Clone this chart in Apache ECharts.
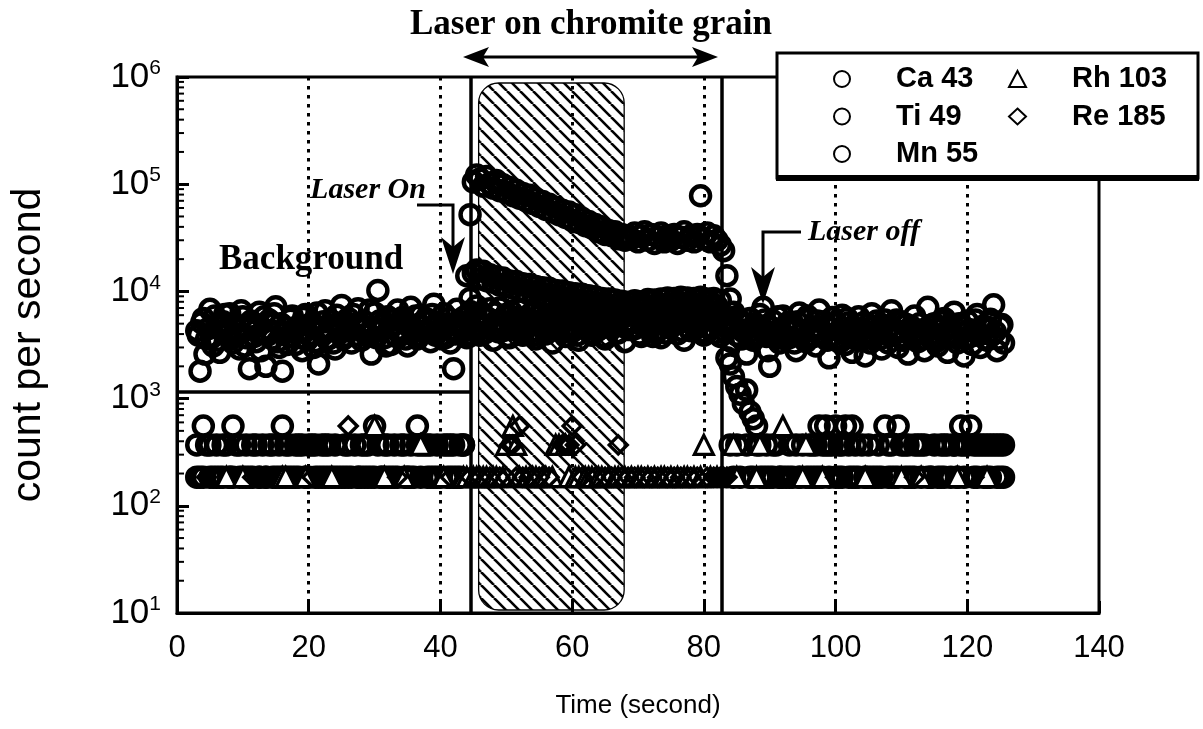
<!DOCTYPE html>
<html>
<head>
<meta charset="utf-8">
<title>Laser on chromite grain</title>
<script src="https://cdn.jsdelivr.net/npm/echarts@6/dist/echarts.min.js"></script>
<style>
  html, body { margin: 0; padding: 0; background: #fff; }
  #chart { width: 1203px; height: 729px; }
</style>
</head>
<body>
<div id="chart"></div>
<script>
// Ca 43 is read twice per sweep: its own time base (s)
const caTime = [
  3, 3.25, 3.5, 3.75, 4, 4.25, 4.5, 4.75, 5, 5.25, 5.5, 5.75, 6, 6.25, 6.5, 6.75, 7, 7.25, 7.5, 7.75,
  8, 8.25, 8.5, 8.75, 9, 9.25, 9.5, 9.75, 10, 10.25, 10.5, 10.75, 11, 11.25, 11.5, 11.75, 12, 12.25, 12.5, 12.75,
  13, 13.25, 13.5, 13.75, 14, 14.25, 14.5, 14.75, 15, 15.25, 15.5, 15.75, 16, 16.25, 16.5, 16.75, 17, 17.25, 17.5, 17.75,
  18, 18.25, 18.5, 18.75, 19, 19.25, 19.5, 19.75, 20, 20.25, 20.5, 20.75, 21, 21.25, 21.5, 21.75, 22, 22.25, 22.5, 22.75,
  23, 23.25, 23.5, 23.75, 24, 24.25, 24.5, 24.75, 25, 25.25, 25.5, 25.75, 26, 26.25, 26.5, 26.75, 27, 27.25, 27.5, 27.75,
  28, 28.25, 28.5, 28.75, 29, 29.25, 29.5, 29.75, 30, 30.25, 30.5, 30.75, 31, 31.25, 31.5, 31.75, 32, 32.25, 32.5, 32.75,
  33, 33.25, 33.5, 33.75, 34, 34.25, 34.5, 34.75, 35, 35.25, 35.5, 35.75, 36, 36.25, 36.5, 36.75, 37, 37.25, 37.5, 37.75,
  38, 38.25, 38.5, 38.75, 39, 39.25, 39.5, 39.75, 40, 40.25, 40.5, 40.75, 41, 41.25, 41.5, 41.75, 42, 42.25, 42.5, 42.75,
  43, 43.25, 43.5, 43.75, 44, 44.25, 44.5, 44.75, 45, 45.25, 45.5, 45.75, 46, 46.25, 46.5, 46.75, 47, 47.25, 47.5, 47.75,
  48, 48.25, 48.5, 48.75, 49, 49.25, 49.5, 49.75, 50, 50.25, 50.5, 50.75, 51, 51.25, 51.5, 51.75, 52, 52.25, 52.5, 52.75,
  53, 53.25, 53.5, 53.75, 54, 54.25, 54.5, 54.75, 55, 55.25, 55.5, 55.75, 56, 56.25, 56.5, 56.75, 57, 57.25, 57.5, 57.75,
  58, 58.25, 58.5, 58.75, 59, 59.25, 59.5, 59.75, 60, 60.25, 60.5, 60.75, 61, 61.25, 61.5, 61.75, 62, 62.25, 62.5, 62.75,
  63, 63.25, 63.5, 63.75, 64, 64.25, 64.5, 64.75, 65, 65.25, 65.5, 65.75, 66, 66.25, 66.5, 66.75, 67, 67.25, 67.5, 67.75,
  68, 68.25, 68.5, 68.75, 69, 69.25, 69.5, 69.75, 70, 70.25, 70.5, 70.75, 71, 71.25, 71.5, 71.75, 72, 72.25, 72.5, 72.75,
  73, 73.25, 73.5, 73.75, 74, 74.25, 74.5, 74.75, 75, 75.25, 75.5, 75.75, 76, 76.25, 76.5, 76.75, 77, 77.25, 77.5, 77.75,
  78, 78.25, 78.5, 78.75, 79, 79.25, 79.5, 79.75, 80, 80.25, 80.5, 80.75, 81, 81.25, 81.5, 81.75, 82, 82.25, 82.5, 82.75,
  83, 83.25, 83.5, 83.75, 84, 84.25, 84.5, 84.75, 85, 85.25, 85.5, 85.75, 86, 86.25, 86.5, 86.75, 87, 87.25, 87.5, 87.75,
  88, 88.25, 88.5, 88.75, 89, 89.25, 89.5, 89.75, 90, 90.25, 90.5, 90.75, 91, 91.25, 91.5, 91.75, 92, 92.25, 92.5, 92.75,
  93, 93.25, 93.5, 93.75, 94, 94.25, 94.5, 94.75, 95, 95.25, 95.5, 95.75, 96, 96.25, 96.5, 96.75, 97, 97.25, 97.5, 97.75,
  98, 98.25, 98.5, 98.75, 99, 99.25, 99.5, 99.75, 100, 100.25, 100.5, 100.75, 101, 101.25, 101.5, 101.75, 102, 102.25, 102.5, 102.75,
  103, 103.25, 103.5, 103.75, 104, 104.25, 104.5, 104.75, 105, 105.25, 105.5, 105.75, 106, 106.25, 106.5, 106.75, 107, 107.25, 107.5, 107.75,
  108, 108.25, 108.5, 108.75, 109, 109.25, 109.5, 109.75, 110, 110.25, 110.5, 110.75, 111, 111.25, 111.5, 111.75, 112, 112.25, 112.5, 112.75,
  113, 113.25, 113.5, 113.75, 114, 114.25, 114.5, 114.75, 115, 115.25, 115.5, 115.75, 116, 116.25, 116.5, 116.75, 117, 117.25, 117.5, 117.75,
  118, 118.25, 118.5, 118.75, 119, 119.25, 119.5, 119.75, 120, 120.25, 120.5, 120.75, 121, 121.25, 121.5, 121.75, 122, 122.25, 122.5, 122.75,
  123, 123.25, 123.5, 123.75, 124, 124.25, 124.5, 124.75, 125, 125.25, 125.5
];

// Ca 43 count rate (counts per second)
const ca43 = [
  4300, 3900, 1800, 5100, 5600, 2600, 3600, 4500, 6800, 3700, 3100, 5900, 4700, 3500, 2700, 4800, 5200, 6100, 3900, 4200,
  6200, 3600, 3300, 5000, 4500, 4000, 2900, 6600, 5800, 3100, 3700, 4400, 1900, 5300, 4900, 3800, 3400, 4700, 6400, 2800,
  4100, 5800, 2000, 3900, 5400, 4300, 3600, 6200, 7200, 3400, 3000, 5000, 1800, 4100, 4600, 3200, 3800, 5500, 5900, 4400,
  3200, 4600, 4800, 3700, 2800, 5700, 6100, 3500, 3900, 4800, 5100, 3000, 3400, 6300, 2100, 4200, 4400, 5200, 6600, 3600,
  3600, 4400, 5300, 3300, 2900, 6000, 4700, 4100, 7400, 3600, 3800, 5100, 5600, 4400, 3300, 6100, 4900, 3900, 6900, 4600,
  3500, 4800, 5200, 3900, 4100, 6700, 2600, 4500, 6300, 3700, 10200, 5300, 4300, 4900, 3700, 3100, 5800, 4600, 3200, 5400,
  4900, 3800, 6700, 4400, 3900, 5700, 5400, 3600, 3100, 4800, 7100, 4200, 4500, 5900, 3600, 3900, 6000, 4700, 4200, 5200,
  5500, 4200, 3400, 6100, 7600, 3900, 4700, 5100, 3800, 4500, 6200, 3700, 5000, 5600, 3300, 4400, 1900, 4000, 6800, 5100,
  4600, 5200, 5700, 4300, 3700, 6000, 6500, 3900, 4400, 5400, 7300, 4700, 3900, 6200, 5800, 4100, 4800, 5600, 6900, 4500,
  3500, 6300, 5300, 4200, 7000, 5100, 4300, 5800, 6100, 3800, 3700, 6500, 5200, 4400, 4600, 5700, 6700, 4200, 3900, 5400,
  5500, 4700, 4100, 6200, 6300, 3900, 3600, 5300, 4900, 6000, 7100, 4400, 4000, 5100, 5600, 4300, 3300, 6400, 6000, 4800,
  4500, 5600, 5100, 4200, 3800, 6100, 6600, 4500, 4200, 5800, 5400, 3900, 3500, 5200, 6200, 4600, 4700, 6300, 5900, 4100,
  3900, 5500, 6400, 4300, 4400, 6100, 5000, 3800, 3600, 5400, 6800, 4600, 4800, 6200, 5700, 4100, 4100, 5500, 6300, 4700,
  3400, 5900, 5300, 4400, 7000, 5100, 4500, 6300, 6100, 4000, 3800, 5700, 5500, 4600, 4900, 6100, 6700, 3800, 4200, 5300,
  5800, 4400, 3700, 6000, 6500, 4100, 4600, 5600, 5200, 4800, 7200, 5300, 4000, 6100, 6000, 4300, 3500, 5700, 5600, 4500,
  4300, 6100, 6900, 4500, 4800, 5800, 5400, 4200, 3900, 6400, 6200, 4700, 4400, 5500, 7500, 4100, 5000, 6000, 3800, 4900,
  5900, 4200, 4600, 5500, 2100, 3400, 6400, 4700, 3900, 5600, 5200, 3600, 4200, 4900, 2600, 4100, 5600, 3800, 3500, 5000,
  4700, 3900, 6100, 4400, 7100, 5400, 3800, 2800, 2000, 4600, 5300, 3700, 4100, 5800, 3300, 4200, 5900, 3600, 4400, 5100,
  3700, 4600, 5000, 3300, 2800, 5200, 6300, 4000, 4200, 3600, 3400, 5900, 5500, 4300, 4600, 3800, 3100, 5300, 6700, 4000,
  3900, 5200, 4800, 3500, 2400, 4500, 5700, 3900, 3600, 5000, 4300, 3400, 6000, 4200, 3200, 5600, 5100, 3700, 2700, 4600,
  4500, 3700, 5800, 4300, 3500, 5100, 2500, 3900, 4900, 3300, 6200, 4600, 3800, 5300, 4100, 3600, 2900, 4800, 5400, 4000,
  3300, 4700, 6600, 3900, 4400, 5400, 3000, 4200, 5200, 3500, 3700, 4900, 2600, 4300, 4700, 3700, 5900, 4100, 3400, 5000,
  4200, 3600, 2800, 4500, 7100, 3900, 3600, 4900, 5000, 3400, 3100, 4400, 4600, 5200, 5600, 3800, 2700, 4500, 3900, 4100,
  6400, 3700, 3300, 5000, 4800, 4100, 2500, 3600, 5300, 4400, 3800, 3200, 4300, 5400, 6100, 3900, 3000, 4700, 4500, 3600,
  3500, 4600, 5500, 3900, 7500, 4200, 2800, 3600, 4700, 4900, 3300
];

// Sweep times for the other isotopes (s)
const sweepTime = [
  3, 3.5, 4, 4.5, 5, 5.5, 6, 6.5, 7, 7.5,
  8, 8.5, 9, 9.5, 10, 10.5, 11, 11.5, 12, 12.5,
  13, 13.5, 14, 14.5, 15, 15.5, 16, 16.5, 17, 17.5,
  18, 18.5, 19, 19.5, 20, 20.5, 21, 21.5, 22, 22.5,
  23, 23.5, 24, 24.5, 25, 25.5, 26, 26.5, 27, 27.5,
  28, 28.5, 29, 29.5, 30, 30.5, 31, 31.5, 32, 32.5,
  33, 33.5, 34, 34.5, 35, 35.5, 36, 36.5, 37, 37.5,
  38, 38.5, 39, 39.5, 40, 40.5, 41, 41.5, 42, 42.5,
  43, 43.5, 44, 44.5, 45, 45.5, 46, 46.5, 47, 47.5,
  48, 48.5, 49, 49.5, 50, 50.5, 51, 51.5, 52, 52.5,
  53, 53.5, 54, 54.5, 55, 55.5, 56, 56.5, 57, 57.5,
  58, 58.5, 59, 59.5, 60, 60.5, 61, 61.5, 62, 62.5,
  63, 63.5, 64, 64.5, 65, 65.5, 66, 66.5, 67, 67.5,
  68, 68.5, 69, 69.5, 70, 70.5, 71, 71.5, 72, 72.5,
  73, 73.5, 74, 74.5, 75, 75.5, 76, 76.5, 77, 77.5,
  78, 78.5, 79, 79.5, 80, 80.5, 81, 81.5, 82, 82.5,
  83, 83.5, 84, 84.5, 85, 85.5, 86, 86.5, 87, 87.5,
  88, 88.5, 89, 89.5, 90, 90.5, 91, 91.5, 92, 92.5,
  93, 93.5, 94, 94.5, 95, 95.5, 96, 96.5, 97, 97.5,
  98, 98.5, 99, 99.5, 100, 100.5, 101, 101.5, 102, 102.5,
  103, 103.5, 104, 104.5, 105, 105.5, 106, 106.5, 107, 107.5,
  108, 108.5, 109, 109.5, 110, 110.5, 111, 111.5, 112, 112.5,
  113, 113.5, 114, 114.5, 115, 115.5, 116, 116.5, 117, 117.5,
  118, 118.5, 119, 119.5, 120, 120.5, 121, 121.5, 122, 122.5,
  123, 123.5, 124, 124.5, 125, 125.5
];

// Count rates (counts per second), one value per sweep; 0 = no counts
const ti49 = [
  185, 0, 185, 370, 185, 0, 185, 185, 370, 0,
  185, 185, 0, 370, 185, 185, 0, 185, 370, 185,
  0, 185, 370, 185, 0, 185, 185, 370, 185, 185,
  370, 185, 0, 185, 185, 370, 185, 0, 185, 370,
  185, 185, 370, 0, 185, 185, 370, 185, 0, 185,
  370, 185, 185, 0, 185, 370, 185, 185, 370, 185,
  185, 0, 370, 185, 185, 185, 0, 370, 185, 370,
  370, 185, 185, 185, 0, 370, 185, 370, 185, 0,
  185, 370, 3800, 8600, 14800, 15800, 13100, 15400, 12600, 14300,
  12200, 13700, 11400, 13300, 11100, 12500, 10700, 12400, 10100, 11800,
  9800, 11600, 9500, 11100, 9400, 10800, 8900, 10700, 8700, 10200,
  8500, 10100, 8300, 9700, 8200, 9500, 7900, 9400, 7700, 9100,
  7500, 8900, 7300, 8600, 7100, 8500, 7000, 8300, 6800, 8100,
  6700, 7900, 6900, 8200, 7000, 8000, 7200, 8400, 7100, 8300,
  7400, 8500, 7200, 8700, 7500, 8600, 7700, 8800, 7400, 8700,
  7500, 8600, 7300, 8800, 7400, 8500, 7200, 8600, 7300, 8200,
  5200, 2400, 370, 185, 370, 185, 0, 370, 185, 185,
  370, 185, 0, 185, 185, 370, 0, 185, 185, 0,
  185, 0, 370, 185, 0, 185, 370, 185, 370, 185,
  185, 370, 370, 0, 185, 370, 185, 555, 370, 185,
  185, 0, 370, 185, 185, 0, 185, 185, 0, 555,
  370, 185, 0, 185, 370, 370, 185, 0, 185, 370,
  370, 0, 185, 185, 370, 0, 185, 370, 0, 185,
  370, 185, 555, 185, 370, 0, 370, 185, 370, 185,
  370, 185, 370, 185, 370, 185
];

const mn55 = [
  370, 185, 555, 0, 370, 185, 370, 0, 185, 370,
  185, 555, 370, 185, 0, 370, 185, 370, 0, 185,
  370, 185, 0, 370, 185, 370, 555, 185, 370, 0,
  185, 370, 370, 185, 370, 0, 370, 185, 370, 185,
  370, 0, 185, 185, 0, 370, 185, 0, 370, 185,
  185, 370, 370, 185, 555, 0, 185, 370, 185, 0,
  370, 185, 0, 370, 185, 370, 185, 555, 370, 0,
  185, 370, 0, 370, 185, 0, 370, 185, 370, 185,
  370, 370, 14000, 52000, 105000, 122000, 112000, 96000, 118000, 101000,
  92000, 108000, 87000, 99000, 84000, 93000, 78000, 88000, 74000, 82000,
  70000, 79000, 66000, 73000, 62000, 69000, 58000, 65000, 55000, 61000,
  52000, 57000, 49000, 55000, 46000, 52000, 44000, 48000, 41000, 45000,
  39000, 42000, 36000, 40000, 34000, 37000, 33000, 36000, 31000, 34000,
  30000, 33000, 31000, 35000, 29000, 33000, 36000, 30000, 34000, 28000,
  32000, 35000, 29000, 33000, 30000, 34000, 28000, 32000, 36000, 30000,
  33000, 29000, 34000, 78000, 31000, 35000, 29000, 33000, 30000, 27000,
  24000, 14000, 8500, 1600, 1300, 1100, 900, 1200, 750, 650,
  555, 370, 185, 370, 0, 185, 370, 185, 0, 185,
  370, 185, 0, 185, 370, 0, 185, 370, 185, 555,
  370, 555, 185, 370, 555, 185, 370, 0, 185, 555,
  370, 185, 0, 185, 370, 185, 0, 370, 185, 0,
  185, 370, 185, 555, 0, 185, 370, 185, 370, 0,
  185, 370, 0, 185, 0, 185, 370, 185, 370, 0,
  370, 185, 370, 370, 0, 555, 185, 370, 0, 370,
  185, 370, 0, 370, 185, 370
];

const rh103 = [
  0, 0, 0, 0, 0, 0, 0, 0, 0, 185,
  0, 0, 0, 0, 185, 0, 0, 0, 0, 0,
  0, 0, 0, 0, 0, 0, 185, 185, 0, 0,
  0, 0, 0, 185, 0, 0, 0, 0, 0, 0,
  0, 185, 0, 0, 0, 0, 0, 0, 0, 0,
  0, 0, 0, 0, 555, 0, 0, 185, 0, 0,
  0, 0, 0, 185, 0, 0, 0, 0, 370, 0,
  0, 0, 0, 0, 0, 185, 0, 0, 0, 0,
  0, 185, 185, 0, 185, 185, 0, 185, 185, 0,
  185, 185, 0, 185, 370, 0, 555, 370, 185, 0,
  185, 0, 185, 185, 0, 185, 185, 0, 185, 370,
  370, 0, 370, 185, 0, 185, 185, 0, 185, 185,
  185, 0, 185, 185, 0, 185, 0, 185, 185, 0,
  185, 0, 185, 0, 185, 185, 0, 185, 0, 185,
  0, 185, 185, 0, 185, 0, 185, 0, 185, 185,
  0, 185, 0, 185, 370, 0, 185, 0, 185, 0,
  0, 0, 0, 370, 185, 0, 0, 0, 0, 0,
  185, 370, 0, 0, 0, 0, 0, 0, 555, 0,
  0, 0, 0, 0, 185, 370, 0, 0, 0, 0,
  185, 0, 0, 0, 0, 0, 0, 0, 0, 0,
  0, 0, 0, 185, 0, 0, 0, 0, 0, 0,
  0, 0, 0, 0, 185, 0, 0, 0, 0, 0,
  185, 0, 0, 0, 0, 0, 0, 0, 0, 0,
  0, 185, 0, 0, 0, 0, 0, 0, 0, 0,
  185, 0, 0, 0, 0, 0
];

const re185 = [
  0, 0, 0, 185, 0, 0, 0, 0, 0, 0,
  0, 0, 0, 0, 0, 0, 0, 185, 0, 0,
  0, 0, 0, 0, 0, 0, 0, 0, 0, 0,
  0, 0, 0, 0, 0, 185, 0, 0, 0, 0,
  0, 0, 0, 0, 0, 0, 555, 0, 0, 0,
  0, 0, 0, 0, 0, 0, 0, 0, 0, 0,
  0, 185, 0, 0, 0, 0, 0, 0, 0, 0,
  0, 0, 0, 0, 0, 0, 0, 185, 0, 0,
  0, 0, 0, 185, 0, 0, 185, 0, 0, 185,
  0, 0, 185, 0, 185, 370, 370, 185, 555, 185,
  0, 185, 0, 0, 185, 0, 0, 185, 0, 0,
  0, 370, 370, 370, 555, 370, 0, 185, 0, 0,
  0, 185, 0, 0, 185, 0, 185, 0, 370, 185,
  0, 185, 0, 185, 0, 0, 185, 0, 185, 0,
  185, 0, 0, 185, 0, 185, 0, 185, 0, 0,
  185, 0, 185, 0, 0, 185, 0, 185, 185, 185,
  185, 185, 0, 0, 0, 0, 0, 0, 0, 0,
  0, 0, 0, 0, 0, 0, 0, 185, 0, 0,
  0, 0, 0, 0, 0, 0, 0, 0, 0, 0,
  0, 0, 0, 0, 185, 0, 0, 0, 0, 0,
  0, 0, 0, 0, 0, 0, 0, 0, 0, 0,
  0, 0, 0, 0, 0, 0, 0, 0, 185, 0,
  0, 0, 0, 0, 0, 0, 0, 0, 0, 0,
  0, 0, 0, 0, 0, 0, 185, 0, 0, 0,
  0, 0, 0, 0, 0, 0
];

// Laser switched on / off (s), the integrated signal window (s) and the background box level (cps)
const laserOnOff = [44.6, 82.7];
const signalWindow = [45.8, 67.9];
const backgroundLevel = 1150;

const SANS = "'Liberation Sans', Arial, sans-serif";
const SERIF = "'Liberation Serif', 'Times New Roman', serif";

// zero-count sweeps cannot sit on a log axis, so they are left out
function toPoints(times, values) {
  return times.map((t, i) => [t, values[i]]).filter(p => p[1] > 0);
}

// diagonal hatch tile for the signal window
const TILE = 13;
const tile = document.createElement('canvas');
tile.width = TILE; tile.height = TILE;
const tctx = tile.getContext('2d');
tctx.strokeStyle = '#000';
tctx.lineWidth = 2.6;
for (const o of [-TILE, 0, TILE]) {
  tctx.beginPath(); tctx.moveTo(o, 0); tctx.lineTo(o + TILE, TILE); tctx.stroke();
}

// log minor tick values 2..9 per decade
const minorTickValues = [];
for (let e = 1; e < 6; e++) {
  for (let m = 2; m < 10; m++) minorTickValues.push([0, m * Math.pow(10, e)]);
}

const openCircle = { color: 'rgba(0,0,0,0)', borderColor: '#000', borderWidth: 4.5, opacity: 1 };
const whiteTriangle = { color: '#fff', borderColor: '#000', borderWidth: 3.2, opacity: 1 };
const openDiamond = { color: 'rgba(0,0,0,0)', borderColor: '#000', borderWidth: 3.4, opacity: 1 };

function scatter(name, times, values, symbol, size, style) {
  return {
    name, type: 'scatter', data: toPoints(times, values),
    symbol, symbolSize: size, itemStyle: style, z: 3,
    emphasis: { disabled: true }, silent: true
  };
}

const legendText = { fontFamily: SANS, fontWeight: 'bold', fontSize: 29, color: '#000', lineHeight: 30, padding: [0, 0, 0, 41] };
const legendIcon = { color: '#fff', borderColor: '#000', borderWidth: 2, opacity: 1 };

const chart = echarts.init(document.getElementById('chart'), null, { renderer: 'canvas' });

chart.setOption({
  animation: false,
  backgroundColor: '#fff',
  title: {
    text: 'Laser on chromite grain',
    left: 405, top: 2,
    textStyle: { fontFamily: SERIF, fontWeight: 'bold', fontSize: 35, color: '#000' }
  },
  grid: {
    left: 175, right: 104, top: 77, bottom: 116,
    show: true, borderColor: '#000', borderWidth: 3, backgroundColor: 'transparent'
  },
  legend: [
    {
      orient: 'vertical', left: 828, top: 59, itemWidth: 16, itemHeight: 16, itemGap: 7.5,
      selectedMode: false, z: 10, textStyle: legendText,
      data: [
        { name: 'Ca 43', icon: 'circle', itemStyle: legendIcon },
        { name: 'Ti 49', icon: 'circle', itemStyle: legendIcon },
        { name: 'Mn 55', icon: 'circle', itemStyle: legendIcon }
      ]
    },
    {
      orient: 'vertical', left: 1003, top: 59, itemWidth: 17, itemHeight: 16, itemGap: 7.5,
      selectedMode: false, z: 10, textStyle: legendText,
      data: [
        { name: 'Rh 103', icon: 'triangle', itemStyle: legendIcon },
        { name: 'Re 185', icon: 'diamond', itemStyle: legendIcon }
      ]
    }
  ],
  xAxis: {
    type: 'value', min: 0, max: 140, interval: 20,
    name: 'Time (second)', nameLocation: 'middle', nameGap: 80,
    nameTextStyle: { fontFamily: SANS, fontSize: 26, color: '#000' },
    axisLine: { lineStyle: { color: '#000', width: 3 } },
    axisTick: { inside: true, length: 12, lineStyle: { color: '#000', width: 3 } },
    axisLabel: { margin: 20, fontFamily: SANS, fontSize: 31, color: '#000' },
    splitLine: {
      show: true, showMinLine: false, showMaxLine: false,
      lineStyle: { color: '#000', width: 3, type: [3.5, 5.5] }
    }
  },
  yAxis: {
    type: 'log', logBase: 10, min: 10, max: 1e6,
    name: 'count per second', nameLocation: 'middle', nameGap: 128,
    nameTextStyle: { fontFamily: SANS, fontSize: 41, color: '#000' },
    axisLine: { lineStyle: { color: '#000', width: 3 } },
    axisTick: { inside: true, length: 12, lineStyle: { color: '#000', width: 3 } },
    splitLine: { show: false },
    axisLabel: {
      margin: 16, color: '#000',
      formatter: v => '{b|10}{s|' + Math.round(Math.log10(v)) + '}',
      rich: {
        b: { fontFamily: SANS, fontSize: 35, lineHeight: 38, color: '#000' },
        s: { fontFamily: SANS, fontSize: 21, verticalAlign: 'top', color: '#000' }
      }
    }
  },
  graphic: [
    // legend frame with its heavy lower edge
    { type: 'rect', z: 5, shape: { x: 777, y: 53, width: 421, height: 125 },
      style: { fill: '#fff', stroke: '#000', lineWidth: 3 } },
    { type: 'line', z: 5, shape: { x1: 776, y1: 178, x2: 1199, y2: 178 },
      style: { stroke: '#000', lineWidth: 6 } },
    // span arrow under the title
    { type: 'line', z: 5, shape: { x1: 480, y1: 57, x2: 702, y2: 57 },
      style: { stroke: '#000', lineWidth: 3 } },
    { type: 'polygon', z: 5, shape: { points: [[463, 57], [489, 47], [483, 57], [489, 67]] },
      style: { fill: '#000' } },
    { type: 'polygon', z: 5, shape: { points: [[718, 57], [692, 47], [698, 57], [692, 67]] },
      style: { fill: '#000' } },
    // annotations
    { type: 'text', z: 6, x: 368, y: 190,
      style: { text: 'Laser On', fontFamily: SERIF, fontWeight: 'bold', fontStyle: 'italic', fontSize: 30,
               fill: '#000', align: 'center', verticalAlign: 'middle' } },
    { type: 'polyline', z: 6, shape: { points: [[417, 205], [453, 205], [453, 250]] },
      style: { stroke: '#000', lineWidth: 3, fill: null } },
    { type: 'polygon', z: 6, shape: { points: [[453, 274], [441, 237], [453, 247], [465, 237]] },
      style: { fill: '#000' } },
    { type: 'text', z: 6, x: 219, y: 260,
      style: { text: 'Background', fontFamily: SERIF, fontWeight: 'bold', fontSize: 35,
               fill: '#000', align: 'left', verticalAlign: 'middle' } },
    { type: 'text', z: 6, x: 808, y: 232,
      style: { text: 'Laser off', fontFamily: SERIF, fontWeight: 'bold', fontStyle: 'italic', fontSize: 30,
               fill: '#000', align: 'left', verticalAlign: 'middle' } },
    { type: 'polyline', z: 6, shape: { points: [[801, 232], [763, 232], [763, 278]] },
      style: { stroke: '#000', lineWidth: 3, fill: null } },
    { type: 'polygon', z: 6, shape: { points: [[763, 304], [751, 267], [763, 277], [775, 267]] },
      style: { fill: '#000' } }
  ],
  series: [
    {
      // hatched signal window, plus the laser on/off and background markers
      type: 'custom', z: 1, silent: true, clip: false,
      data: [[signalWindow[0], signalWindow[1]]],
      renderItem(params, api) {
        const cs = params.coordSys;
        const x0 = api.coord([api.value(0), 1000])[0];
        const x1 = api.coord([api.value(1), 1000])[0];
        return {
          type: 'rect',
          shape: { x: x0, y: cs.y + 6, width: x1 - x0, height: cs.height - 9, r: 20 },
          style: { fill: { image: tile, repeat: 'repeat' }, stroke: '#000', lineWidth: 1.3 }
        };
      },
      markLine: {
        silent: true, symbol: 'none', animation: false,
        label: { show: false },
        lineStyle: { color: '#000', width: 3.5, type: 'solid', opacity: 1 },
        emphasis: { disabled: true },
        data: [
          { xAxis: laserOnOff[0] },
          { xAxis: laserOnOff[1] },
          [{ coord: [0, backgroundLevel] }, { coord: [laserOnOff[0], backgroundLevel] }]
        ]
      }
    },
    {
      // minor ticks of the log axis
      type: 'custom', z: 4, silent: true, clip: false,
      data: minorTickValues,
      renderItem(params, api) {
        const p = api.coord([0, api.value(1)]);
        return { type: 'line', shape: { x1: p[0], y1: p[1], x2: p[0] + 7, y2: p[1] },
                 style: { stroke: '#000', lineWidth: 2 } };
      }
    },
    scatter('Ca 43', caTime, ca43, 'circle', 19, openCircle),
    scatter('Ti 49', sweepTime, ti49, 'circle', 19, openCircle),
    scatter('Mn 55', sweepTime, mn55, 'circle', 19, openCircle),
    scatter('Rh 103', sweepTime, rh103, 'triangle', 19, whiteTriangle),
    scatter('Re 185', sweepTime, re185, 'diamond', 18, openDiamond)
  ]
});
</script>
</body>
</html>
